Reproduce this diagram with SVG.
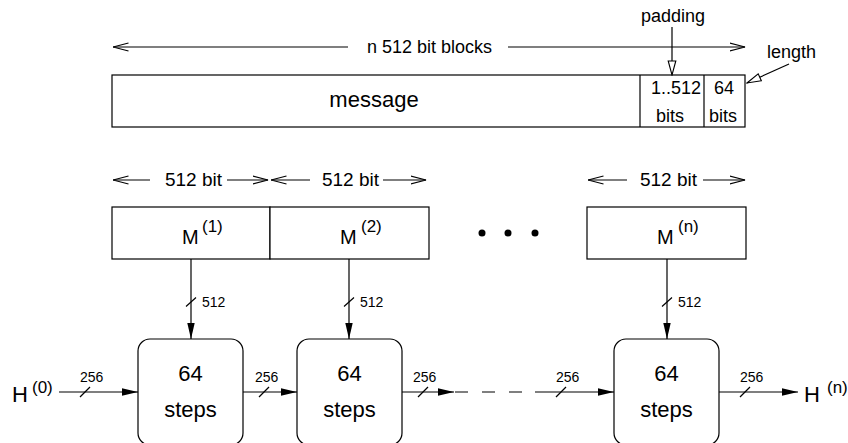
<svg xmlns="http://www.w3.org/2000/svg" width="848" height="443" viewBox="0 0 848 443">
<style>
text{font-family:"Liberation Sans",Arial,Helvetica,sans-serif;fill:#000}
.box{fill:#fff;stroke:#000;stroke-width:1.2}
.ln{fill:none;stroke:#000;stroke-width:1.2}
.open{marker-end:url(#open)}
.fill{marker-end:url(#fill)}
.hollow{marker-end:url(#hollow)}
.dash{stroke-dasharray:13 14}
.big{font-size:22px}
.mid{font-size:18px}
.bit{font-size:19px}
.sm{font-size:14px}
.sup{font-size:17px}
.mm{font-size:20px}
.hh{font-size:22px}
.c{text-anchor:middle}
</style>
<defs>
<marker id="open" markerUnits="userSpaceOnUse" viewBox="0 0 16 10" refX="15.5" refY="5" markerWidth="16" markerHeight="10" orient="auto-start-reverse">
<path d="M0,1 L15.5,5 L0,9" fill="none" stroke="#000" stroke-width="1.2"/>
</marker>
<marker id="fill" markerUnits="userSpaceOnUse" viewBox="0 0 16 10" refX="16" refY="5" markerWidth="16" markerHeight="10" orient="auto">
<path d="M0,1.3 L16,5 L0,8.7 Z" fill="#000"/>
</marker>
<marker id="hollow" markerUnits="userSpaceOnUse" viewBox="0 0 16 10" refX="15" refY="5" markerWidth="16" markerHeight="10" orient="auto">
<path d="M1,1.2 L15,5 L1,8.8 Z" fill="#fff" stroke="#000" stroke-width="1.1"/>
</marker>
</defs>

<g id="message">
<rect class="box" x="112" y="75" width="633" height="52"/>
<line class="ln" x1="640" y1="75" x2="640" y2="127"/>
<line class="ln" x1="704" y1="75" x2="704" y2="127"/>
<text class="big c" x="374" y="107">message</text>
<text class="mid c" x="676" y="94">1..512</text>
<text class="mid c" x="670" y="122">bits</text>
<text class="mid c" x="724" y="94">64</text>
<text class="mid c" x="723" y="122">bits</text>
</g>

<g id="labels">
<text class="mid c" x="429.5" y="53">n 512 bit blocks</text>
<text class="mid c" x="673" y="22">padding</text>
<text class="mid" x="767" y="58">length</text>
<text class="bit c" x="193.5" y="186">512 bit</text>
<text class="bit c" x="350.5" y="186">512 bit</text>
<text class="bit c" x="668.5" y="186">512 bit</text>
</g>

<g id="M1">
<rect class="box" x="112" y="207" width="158" height="52"/>
<text class="mm" x="182" y="244">M</text>
<text class="sup" x="202" y="232">(1)</text>
</g>
<g id="M2">
<rect class="box" x="270" y="207" width="159" height="52"/>
<text class="mm" x="340" y="244">M</text>
<text class="sup" x="361" y="232">(2)</text>
</g>
<g id="Mn">
<rect class="box" x="587" y="207" width="159" height="52"/>
<text class="mm" x="657" y="244">M</text>
<text class="sup" x="678" y="232">(n)</text>
</g>
<g id="dots">
<circle cx="482" cy="233" r="3.5"/>
<circle cx="508" cy="233" r="3.5"/>
<circle cx="535" cy="233" r="3.5"/>
</g>

<g id="step1">
<rect class="box" x="138" y="339" width="105" height="106" rx="12"/>
<text class="big c" x="190.5" y="381">64</text>
<text class="big c" x="190.5" y="417">steps</text>
</g>
<g id="step2">
<rect class="box" x="297" y="339" width="105" height="106" rx="12"/>
<text class="big c" x="349.5" y="381">64</text>
<text class="big c" x="349.5" y="417">steps</text>
</g>
<g id="step3">
<rect class="box" x="614" y="339" width="105" height="106" rx="12"/>
<text class="big c" x="666.5" y="381">64</text>
<text class="big c" x="666.5" y="417">steps</text>
</g>

<g id="H0">
<text class="hh" x="12" y="402">H</text>
<text class="sup" x="32" y="393">(0)</text>
</g>
<g id="Hn">
<text class="hh" x="804" y="402">H</text>
<text class="sup" x="827" y="393">(n)</text>
</g>

<g id="connectors">
<line class="ln open" x1="348" y1="47" x2="113" y2="47"/>
<line class="ln open" x1="508" y1="47" x2="745" y2="47"/>
<line class="ln hollow" x1="672" y1="27" x2="672" y2="75"/>
<line class="ln hollow" x1="789" y1="64" x2="747" y2="83"/>
<line class="ln open" x1="150" y1="180" x2="113" y2="180"/>
<line class="ln open" x1="227" y1="180" x2="268" y2="180"/>
<line class="ln open" x1="310" y1="180" x2="271" y2="180"/>
<line class="ln open" x1="383" y1="180" x2="426" y2="180"/>
<line class="ln open" x1="627" y1="180" x2="588" y2="180"/>
<line class="ln open" x1="703" y1="180" x2="745" y2="180"/>
<line class="ln fill" x1="191" y1="259" x2="191" y2="339"/>
<line class="ln fill" x1="349" y1="259" x2="349" y2="339"/>
<line class="ln fill" x1="667" y1="259" x2="667" y2="339"/>
<line class="ln" x1="186" y1="306.5" x2="196" y2="297.5"/>
<line class="ln" x1="344" y1="306.5" x2="354" y2="297.5"/>
<line class="ln" x1="662" y1="306.5" x2="672" y2="297.5"/>
<text class="sm" x="202" y="307">512</text>
<text class="sm" x="360" y="307">512</text>
<text class="sm" x="678" y="307">512</text>
<line class="ln fill" x1="59" y1="392" x2="138" y2="392"/>
<line class="ln fill" x1="243" y1="392" x2="297" y2="392"/>
<line class="ln fill" x1="402" y1="392" x2="454" y2="392"/>
<line class="ln dash" x1="455" y1="392" x2="535" y2="392"/>
<line class="ln fill" x1="535" y1="392" x2="614" y2="392"/>
<line class="ln fill" x1="719" y1="392" x2="798" y2="392"/>
<line class="ln" x1="80" y1="397" x2="90" y2="387"/>
<line class="ln" x1="259" y1="397" x2="269" y2="387"/>
<line class="ln" x1="418" y1="397" x2="428" y2="387"/>
<line class="ln" x1="556" y1="397" x2="566" y2="387"/>
<line class="ln" x1="740" y1="397" x2="750" y2="387"/>
<text class="sm" x="80" y="382">256</text>
<text class="sm" x="255" y="382">256</text>
<text class="sm" x="413" y="382">256</text>
<text class="sm" x="556" y="382">256</text>
<text class="sm" x="740" y="382">256</text>
</g>
</svg>
